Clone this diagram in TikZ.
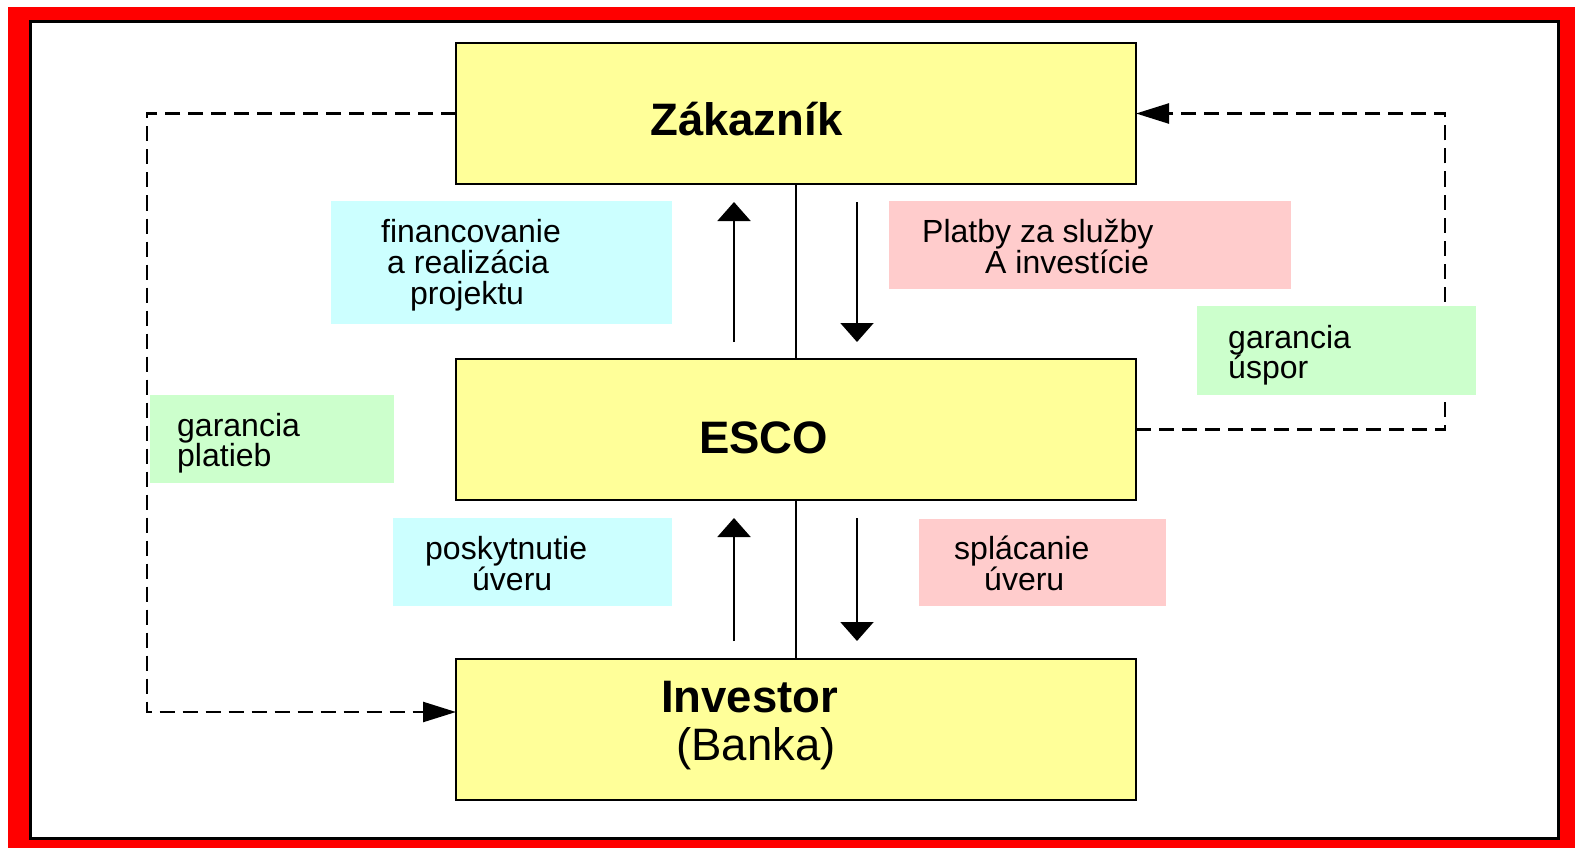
\documentclass[tikz,border=0pt]{standalone}
\usepackage{fontspec}
\setmainfont{Liberation Sans}
\usetikzlibrary{arrows.meta}
\definecolor{boxyellow}{HTML}{FFFF99}
\definecolor{lblcyan}{HTML}{CCFFFF}
\definecolor{lblpink}{HTML}{FFCCCC}
\definecolor{lblgreen}{HTML}{CCFFCC}
\definecolor{framered}{HTML}{FF0000}
\tikzset{
  ybox/.style={draw=black, line width=1.8pt, fill=boxyellow, inner sep=0pt, outer sep=0pt, minimum width=680pt, minimum height=140.5pt},
  bigtxt/.style={anchor=base west, inner sep=0pt, font=\fontsize{45.5}{48}\selectfont},
  bigbold/.style={bigtxt, font=\fontsize{45.5}{48}\selectfont\bfseries},
  lbltxt/.style={anchor=base west, inner sep=0pt, font=\fontsize{32}{30}\selectfont},
  flowarrow/.style={line width=2pt, -{Triangle[width=33pt, length=19pt]}},
  dasharrow/.style={line width=2.4pt, dash pattern=on 15pt off 8pt, -{Triangle[width=20pt, length=33pt]}},
  linkline/.style={line width=2pt}
}
\begin{document}
\begin{tikzpicture}[x=1pt, y=-1pt]
\useasboundingbox (0,0) rectangle (1575,848);
% frame
\fill[framered] (8,7) rectangle (1575,848);
\draw[line width=3pt, fill=white] (30.5,21.5) rectangle (1558.5,838.5);

% main boxes
\node[ybox] (zak) at (796,113.5) {};
\node[ybox] (esco) at (796,429.5) {};
\node[ybox] (inv) at (796,729.5) {};

% vertical links
\draw[linkline] (zak.south) -- (esco.north);
\draw[linkline] (esco.south) -- (inv.north);

% dashed guarantees
\coordinate (cL) at (147,712);
\coordinate (cR) at (1445,113.5);
\draw[dasharrow] (zak.west) -- (zak.west -| cL) -- (cL) -- (cL -| inv.west);
\draw[dasharrow] (esco.east) -- (esco.east -| cR) -- (cR) -- (zak.east);

% label boxes
\fill[lblcyan] (331,201) rectangle (672,324);
\fill[lblpink] (889,201) rectangle (1291,289);
\fill[lblgreen] (1197,306) rectangle (1476,395);
\fill[lblgreen] (149.5,395) rectangle (394,483);
\fill[lblcyan] (393,518) rectangle (672,606);
\fill[lblpink] (919,519) rectangle (1166,606);

% flow arrows
\coordinate (a1s) at (734,342);
\coordinate (a1e) at (734,202);
\coordinate (a2s) at (857,202);
\coordinate (a2e) at (857,342);
\coordinate (a3s) at (734,641);
\coordinate (a3e) at (734,518);
\coordinate (a4s) at (857,518);
\coordinate (a4e) at (857,641);
\draw[flowarrow] (a1s) -- (a1e);
\draw[flowarrow] (a2s) -- (a2e);
\draw[flowarrow] (a3s) -- (a3e);
\draw[flowarrow] (a4s) -- (a4e);

% main texts
\node[bigbold] (tzak) at (650,136) {Zákazník};
\node[bigbold] (tesco) at (699,453) {ESCO};
\node[bigbold] (tinv) at (661,712) {Investor};
\node[bigtxt] (tbank) at (676,760) {(Banka)};

% label texts
\node[lbltxt] (l1a) at (381,242) {financovanie};
\node[lbltxt] (l1b) at (387,273) {a realizácia};
\node[lbltxt] (l1c) at (410,304) {projektu};
\node[lbltxt] (l2a) at (922,242) {Platby za služby};
\node[lbltxt] (l2b) at (985,273) {A investície};
\node[lbltxt] (l3a) at (1228,348) {garancia};
\node[lbltxt] (l3b) at (1228,378) {úspor};
\node[lbltxt] (l4a) at (177,436) {garancia};
\node[lbltxt] (l4b) at (177,466) {platieb};
\node[lbltxt] (l5a) at (425,559) {poskytnutie};
\node[lbltxt] (l5b) at (472,590) {úveru};
\node[lbltxt] (l6a) at (954,559) {splácanie};
\node[lbltxt] (l6b) at (984,590) {úveru};
\end{tikzpicture}
\end{document}
